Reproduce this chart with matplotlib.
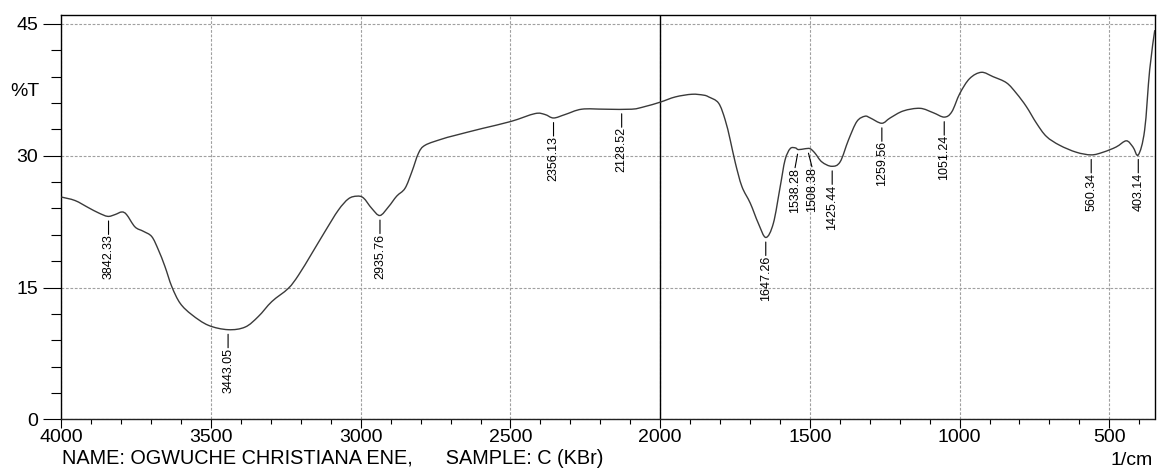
import matplotlib
matplotlib.use('Agg')
import matplotlib.pyplot as plt
import numpy as np
from matplotlib.path import Path
from matplotlib.patches import PathPatch
from matplotlib.ticker import MultipleLocator

plt.rcParams['font.family'] = ['Liberation Sans', 'DejaVu Sans']

# spectrum (wavenumber 1/cm, %T)
wavenumber = [4000, 3954, 3910, 3876, 3845, 3821, 3798, 3782, 3754, 3726,
              3698, 3676, 3654, 3631, 3603, 3564, 3509, 3443, 3386, 3342,
              3297, 3242, 3208, 3163, 3119, 3075, 3041, 3013, 2991, 2963,
              2936, 2907, 2880, 2852, 2829, 2807, 2785, 2729, 2687, 2595,
              2499, 2418, 2385, 2356, 2317, 2262, 2184, 2095, 2051, 2000,
              1949, 1894, 1855, 1838, 1805, 1783, 1766, 1749, 1727, 1699,
              1672, 1647, 1622, 1599, 1583, 1566, 1549, 1538, 1516, 1499,
              1483, 1460, 1427, 1399, 1371, 1343, 1316, 1298, 1260, 1232,
              1188, 1132, 1088, 1051, 1026, 999, 966, 927, 888, 843,
              810, 777, 743, 710, 666, 610, 560, 521, 477, 443,
              421, 403, 382, 365, 348]
transmittance = [25.3, 24.9, 24.1, 23.5, 23.1, 23.3, 23.6, 23.3, 21.9, 21.4,
                 20.8, 19.3, 17.4, 15.1, 13.2, 11.9, 10.7, 10.2, 10.5, 11.7,
                 13.4, 14.9, 16.4, 18.9, 21.4, 23.8, 25.1, 25.4, 25.2, 24.0,
                 23.2, 24.2, 25.4, 26.3, 28.2, 30.3, 31.2, 31.9, 32.3, 33.1,
                 33.9, 34.8, 34.7, 34.3, 34.7, 35.3, 35.3, 35.3, 35.6, 36.1,
                 36.7, 37.0, 36.9, 36.7, 36.0, 34.1, 31.8, 29.2, 26.5, 24.6,
                 22.3, 20.7, 22.3, 26.5, 29.5, 30.8, 30.9, 30.7, 30.8, 30.8,
                 30.3, 29.3, 28.8, 29.3, 31.8, 33.9, 34.5, 34.3, 33.7, 34.3,
                 35.1, 35.4, 34.9, 34.4, 35.0, 37.1, 38.8, 39.5, 39.0, 38.3,
                 37.1, 35.6, 33.7, 32.2, 31.2, 30.4, 30.1, 30.4, 31.0, 31.7,
                 31.0, 30.1, 32.9, 39.8, 44.3]

# picked peaks
peak_labels = ['3842.33', '3443.05', '2935.76', '2356.13', '2128.52',
               '1647.26', '1538.28', '1508.38', '1425.44', '1259.56',
               '1051.24', '560.34', '403.14']
peak_wn = [3842.33, 3443.05, 2935.76, 2356.13, 2128.52, 1647.26, 1538.28,
           1508.38, 1425.44, 1259.56, 1051.24, 560.34, 403.14]
peak_T = [23.1, 10.2, 23.2, 34.3, 35.3, 20.7, 30.7, 30.8, 28.8, 33.7,
          34.4, 30.1, 30.1]
# small sideways shift (points) for the two crowded labels
label_dx = {'1538.28': -2.4, '1508.38': 3.3}

fig = plt.figure(figsize=(11.57, 4.69), dpi=100)
ax = fig.add_axes([0.053, 0.106, 0.9455, 0.8627])

# smooth trace: the read points joined by Catmull-Rom style bezier segments
pts = np.column_stack([wavenumber, transmittance]).astype(float)
ext = np.vstack([pts[0], pts, pts[-1]])
verts = [pts[0]]
codes = [Path.MOVETO]
for i in range(1, len(ext) - 2):
    p0, p1, p2, p3 = ext[i - 1], ext[i], ext[i + 1], ext[i + 2]
    verts += [p1 + (p2 - p0) / 6, p2 - (p3 - p1) / 6, p2]
    codes += [Path.CURVE4] * 3
ax.add_patch(PathPatch(Path(verts, codes), fill=False, edgecolor='#3a3a3a',
                       lw=1.0, zorder=3))
ax.axvline(2000, color='black', lw=1.0, zorder=2)

for lab, wn, t in zip(peak_labels, peak_wn, peak_T):
    ax.annotate(lab, xy=(wn, t), xytext=(label_dx.get(lab, 0), -13),
                textcoords='offset points', rotation=90, ha='center',
                va='top', fontsize=9,
                arrowprops=dict(arrowstyle='-', color='black', lw=0.8,
                                shrinkA=0, shrinkB=3.3, relpos=(0.5, 1),
                                patchA=None))

ax.set_xlim(4000, 346.4)
ax.set_ylim(0, 46.06)
ax.xaxis.set_major_locator(MultipleLocator(500))
ax.xaxis.set_minor_locator(MultipleLocator(100))
ax.yaxis.set_major_locator(MultipleLocator(15))
ax.yaxis.set_minor_locator(MultipleLocator(3))

ax.grid(True, which='major', color='#a0a0a0', lw=0.8, ls=(0, (2.5, 1.5)))
ax.set_axisbelow(True)

ax.tick_params(axis='x', which='major', length=6.5, width=0.8, pad=0.5,
               labelsize=14)
ax.tick_params(axis='x', which='minor', length=3.6, width=0.8)
ax.tick_params(axis='y', which='major', length=13, width=0.8, pad=3.6,
               labelsize=14)
ax.tick_params(axis='y', which='minor', length=7, width=0.8)

for s in ax.spines.values():
    s.set_linewidth(1.0)
ax.spines['bottom'].set_linestyle((0, (1, 1)))
ax.spines['bottom'].set_color('#222222')

fig.text(10 / 1157, 1 - 91 / 469, '%T', fontsize=14, ha='left', va='center')
fig.text(62 / 1157, 1 - 464 / 469,
         'NAME: OGWUCHE CHRISTIANA ENE,      SAMPLE: C (KBr)',
         fontsize=14.3, ha='left', va='baseline')
fig.text(1153 / 1157, 1 - 465 / 469, '1/cm', fontsize=14, ha='right',
         va='baseline')

fig.savefig('out.png', dpi=100)
